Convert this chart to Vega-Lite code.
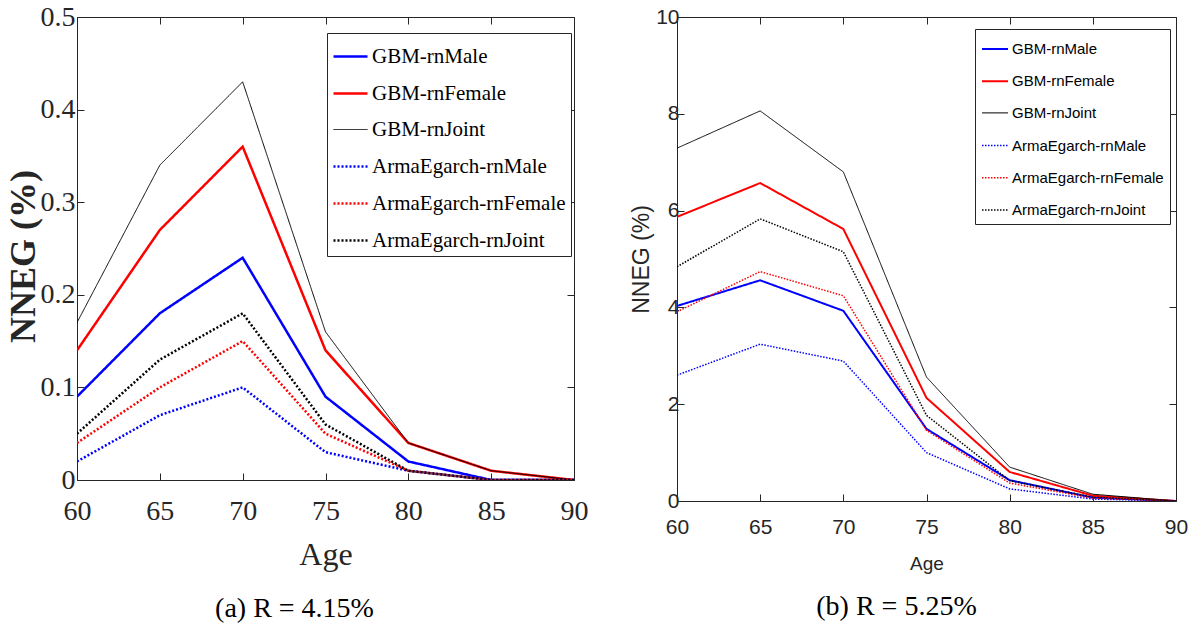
{
  "$schema": "https://vega.github.io/schema/vega-lite/v6.json",
  "background": "white",
  "padding": {"left": 4, "top": 2, "right": 5, "bottom": 0},
  "spacing": 40,
  "datasets": {
    "a": [
      {"age": 60, "series": "GBM-rnMale", "v": 0.09}, {"age": 65, "series": "GBM-rnMale", "v": 0.18}, {"age": 70, "series": "GBM-rnMale", "v": 0.24}, {"age": 75, "series": "GBM-rnMale", "v": 0.09}, {"age": 80, "series": "GBM-rnMale", "v": 0.02}, {"age": 85, "series": "GBM-rnMale", "v": 0.0}, {"age": 90, "series": "GBM-rnMale", "v": 0.0},
      {"age": 60, "series": "GBM-rnFemale", "v": 0.14}, {"age": 65, "series": "GBM-rnFemale", "v": 0.27}, {"age": 70, "series": "GBM-rnFemale", "v": 0.36}, {"age": 75, "series": "GBM-rnFemale", "v": 0.14}, {"age": 80, "series": "GBM-rnFemale", "v": 0.04}, {"age": 85, "series": "GBM-rnFemale", "v": 0.01}, {"age": 90, "series": "GBM-rnFemale", "v": 0.0},
      {"age": 60, "series": "GBM-rnJoint", "v": 0.17}, {"age": 65, "series": "GBM-rnJoint", "v": 0.34}, {"age": 70, "series": "GBM-rnJoint", "v": 0.43}, {"age": 75, "series": "GBM-rnJoint", "v": 0.16}, {"age": 80, "series": "GBM-rnJoint", "v": 0.04}, {"age": 85, "series": "GBM-rnJoint", "v": 0.01}, {"age": 90, "series": "GBM-rnJoint", "v": 0.0},
      {"age": 60, "series": "ArmaEgarch-rnMale", "v": 0.02}, {"age": 65, "series": "ArmaEgarch-rnMale", "v": 0.07}, {"age": 70, "series": "ArmaEgarch-rnMale", "v": 0.10}, {"age": 75, "series": "ArmaEgarch-rnMale", "v": 0.03}, {"age": 80, "series": "ArmaEgarch-rnMale", "v": 0.01}, {"age": 85, "series": "ArmaEgarch-rnMale", "v": 0.0}, {"age": 90, "series": "ArmaEgarch-rnMale", "v": 0.0},
      {"age": 60, "series": "ArmaEgarch-rnFemale", "v": 0.04}, {"age": 65, "series": "ArmaEgarch-rnFemale", "v": 0.10}, {"age": 70, "series": "ArmaEgarch-rnFemale", "v": 0.15}, {"age": 75, "series": "ArmaEgarch-rnFemale", "v": 0.05}, {"age": 80, "series": "ArmaEgarch-rnFemale", "v": 0.01}, {"age": 85, "series": "ArmaEgarch-rnFemale", "v": 0.0}, {"age": 90, "series": "ArmaEgarch-rnFemale", "v": 0.0},
      {"age": 60, "series": "ArmaEgarch-rnJoint", "v": 0.05}, {"age": 65, "series": "ArmaEgarch-rnJoint", "v": 0.13}, {"age": 70, "series": "ArmaEgarch-rnJoint", "v": 0.18}, {"age": 75, "series": "ArmaEgarch-rnJoint", "v": 0.06}, {"age": 80, "series": "ArmaEgarch-rnJoint", "v": 0.01}, {"age": 85, "series": "ArmaEgarch-rnJoint", "v": 0.0}, {"age": 90, "series": "ArmaEgarch-rnJoint", "v": 0.0}
    ],
    "b": [
      {"age": 60, "series": "GBM-rnMale", "v": 4.03}, {"age": 65, "series": "GBM-rnMale", "v": 4.56}, {"age": 70, "series": "GBM-rnMale", "v": 3.93}, {"age": 75, "series": "GBM-rnMale", "v": 1.49}, {"age": 80, "series": "GBM-rnMale", "v": 0.43}, {"age": 85, "series": "GBM-rnMale", "v": 0.07}, {"age": 90, "series": "GBM-rnMale", "v": 0.0},
      {"age": 60, "series": "GBM-rnFemale", "v": 5.87}, {"age": 65, "series": "GBM-rnFemale", "v": 6.57}, {"age": 70, "series": "GBM-rnFemale", "v": 5.62}, {"age": 75, "series": "GBM-rnFemale", "v": 2.13}, {"age": 80, "series": "GBM-rnFemale", "v": 0.60}, {"age": 85, "series": "GBM-rnFemale", "v": 0.11}, {"age": 90, "series": "GBM-rnFemale", "v": 0.0},
      {"age": 60, "series": "GBM-rnJoint", "v": 7.29}, {"age": 65, "series": "GBM-rnJoint", "v": 8.06}, {"age": 70, "series": "GBM-rnJoint", "v": 6.80}, {"age": 75, "series": "GBM-rnJoint", "v": 2.56}, {"age": 80, "series": "GBM-rnJoint", "v": 0.70}, {"age": 85, "series": "GBM-rnJoint", "v": 0.14}, {"age": 90, "series": "GBM-rnJoint", "v": 0.0},
      {"age": 60, "series": "ArmaEgarch-rnMale", "v": 2.60}, {"age": 65, "series": "ArmaEgarch-rnMale", "v": 3.24}, {"age": 70, "series": "ArmaEgarch-rnMale", "v": 2.89}, {"age": 75, "series": "ArmaEgarch-rnMale", "v": 1.00}, {"age": 80, "series": "ArmaEgarch-rnMale", "v": 0.25}, {"age": 85, "series": "ArmaEgarch-rnMale", "v": 0.04}, {"age": 90, "series": "ArmaEgarch-rnMale", "v": 0.0},
      {"age": 60, "series": "ArmaEgarch-rnFemale", "v": 3.91}, {"age": 65, "series": "ArmaEgarch-rnFemale", "v": 4.74}, {"age": 70, "series": "ArmaEgarch-rnFemale", "v": 4.24}, {"age": 75, "series": "ArmaEgarch-rnFemale", "v": 1.46}, {"age": 80, "series": "ArmaEgarch-rnFemale", "v": 0.37}, {"age": 85, "series": "ArmaEgarch-rnFemale", "v": 0.06}, {"age": 90, "series": "ArmaEgarch-rnFemale", "v": 0.0},
      {"age": 60, "series": "ArmaEgarch-rnJoint", "v": 4.84}, {"age": 65, "series": "ArmaEgarch-rnJoint", "v": 5.83}, {"age": 70, "series": "ArmaEgarch-rnJoint", "v": 5.15}, {"age": 75, "series": "ArmaEgarch-rnJoint", "v": 1.77}, {"age": 80, "series": "ArmaEgarch-rnJoint", "v": 0.42}, {"age": 85, "series": "ArmaEgarch-rnJoint", "v": 0.08}, {"age": 90, "series": "ArmaEgarch-rnJoint", "v": 0.0}
    ]
  },
  "config": {
    "view": {"stroke": "#262626", "strokeWidth": 1},
    "axis": {"grid": false, "domain": false, "tickColor": "#262626", "tickSize": -7, "labelColor": "#262626", "titleColor": "#262626", "labelFlush": false, "labelOverlap": false}
  },
  "hconcat": [
    {
      "width": 497,
      "height": 463,
      "data": {"name": "a"},
      "title": {"text": "(a)  R  =  4.15%", "orient": "bottom", "anchor": "middle", "frame": "group", "dx": -31, "offset": 25, "font": "Liberation Serif", "fontSize": 28, "fontWeight": "normal", "color": "black"},
      "layer": [
        {
          "mark": {"type": "line", "clip": true},
          "encoding": {
            "x": {"field": "age", "type": "quantitative", "scale": {"domain": [60, 90], "nice": false},
                  "axis": {"orient": "bottom", "values": [60, 65, 70, 75, 80, 85, 90], "title": "Age", "labelFont": "Liberation Serif", "labelFontSize": 28, "labelPadding": 24, "titleFont": "Liberation Serif", "titleFontSize": 32, "titleFontWeight": "normal", "titlePadding": 14}},
            "y": {"field": "v", "type": "quantitative", "scale": {"domain": [0, 0.5], "nice": false},
                  "axis": {"orient": "left", "values": [0, 0.1, 0.2, 0.3, 0.4, 0.5], "format": "~g", "title": "NNEG (%)", "labelFont": "Liberation Serif", "labelFontSize": 28, "labelPadding": 9, "titleFont": "Liberation Serif", "titleFontSize": 36, "titleFontWeight": "bold", "titleX": -54, "titleY": 239, "titleAngle": -90, "titleBaseline": "middle", "titleAlign": "center"}},
            "color": {"field": "series", "type": "nominal",
                      "scale": {"domain": ["GBM-rnMale", "GBM-rnFemale", "GBM-rnJoint", "ArmaEgarch-rnMale", "ArmaEgarch-rnFemale", "ArmaEgarch-rnJoint"], "range": ["#0000ff", "#ff0000", "#000000", "#0000ff", "#ff0000", "#000000"]},
                      "legend": {"title": null, "orient": "none", "legendX": 250, "legendY": 16, "symbolType": "stroke", "symbolSize": 1156, "labelFont": "Liberation Serif", "labelFontSize": 21, "labelColor": "black", "rowPadding": 8, "padding": 5, "strokeColor": "#262626", "fillColor": "white", "labelOffset": 3, "labelLimit": 400, "cornerRadius": 0}},
            "strokeDash": {"field": "series", "type": "nominal",
                      "scale": {"domain": ["GBM-rnMale", "GBM-rnFemale", "GBM-rnJoint", "ArmaEgarch-rnMale", "ArmaEgarch-rnFemale", "ArmaEgarch-rnJoint"], "range": [[1, 0], [1, 0], [1, 0], [2, 2], [2, 2], [2, 2]]},
                      "legend": {"title": null, "orient": "none", "legendX": 250, "legendY": 16, "symbolType": "stroke", "symbolSize": 1156, "labelFont": "Liberation Serif", "labelFontSize": 21, "labelColor": "black", "rowPadding": 8, "padding": 5, "strokeColor": "#262626", "fillColor": "white", "labelOffset": 3, "labelLimit": 400, "cornerRadius": 0}},
            "strokeWidth": {"field": "series", "type": "nominal",
                      "scale": {"type": "ordinal", "domain": ["GBM-rnMale", "GBM-rnFemale", "GBM-rnJoint", "ArmaEgarch-rnMale", "ArmaEgarch-rnFemale", "ArmaEgarch-rnJoint"], "range": [2.5, 2.5, 1, 2.5, 2.5, 2.5]},
                      "legend": {"title": null, "orient": "none", "legendX": 250, "legendY": 16, "symbolType": "stroke", "symbolSize": 1156, "labelFont": "Liberation Serif", "labelFontSize": 21, "labelColor": "black", "rowPadding": 8, "padding": 5, "strokeColor": "#262626", "fillColor": "white", "labelOffset": 3, "labelLimit": 400, "cornerRadius": 0}}
          }
        },
        {
          "mark": {"type": "line", "opacity": 0},
          "encoding": {
            "x": {"field": "age", "type": "quantitative", "scale": {"domain": [60, 90], "nice": false},
                  "axis": {"orient": "top", "values": [60, 65, 70, 75, 80, 85, 90], "labels": false, "title": null}},
            "y": {"field": "v", "type": "quantitative", "scale": {"domain": [0, 0.5], "nice": false},
                  "axis": {"orient": "right", "values": [0, 0.1, 0.2, 0.3, 0.4, 0.5], "labels": false, "title": null}},
            "detail": {"field": "series", "type": "nominal"}
          }
        }
      ],
      "resolve": {"axis": {"x": "independent", "y": "independent"}}
    },
    {
      "width": 499,
      "height": 484,
      "data": {"name": "b"},
      "title": {"text": "(b)  R  =  5.25%", "orient": "bottom", "anchor": "middle", "frame": "group", "dx": -30, "offset": 20, "font": "Liberation Serif", "fontSize": 28, "fontWeight": "normal", "color": "black"},
      "layer": [
        {
          "mark": {"type": "line", "clip": true},
          "encoding": {
            "x": {"field": "age", "type": "quantitative", "scale": {"domain": [60, 90], "nice": false},
                  "axis": {"orient": "bottom", "values": [60, 65, 70, 75, 80, 85, 90], "title": "Age", "labelFont": "Liberation Sans", "labelFontSize": 21, "labelPadding": 22, "titleFont": "Liberation Sans", "titleFontSize": 19, "titleFontWeight": "normal", "titlePadding": 17}},
            "y": {"field": "v", "type": "quantitative", "scale": {"domain": [0, 10], "nice": false},
                  "axis": {"orient": "left", "values": [0, 2, 4, 6, 8, 10], "title": "NNEG (%)", "labelFont": "Liberation Sans", "labelFontSize": 21, "labelPadding": 5, "titleFont": "Liberation Sans", "titleFontSize": 23, "titleFontWeight": "normal", "titleX": -36, "titleY": 242, "titleAngle": -90, "titleBaseline": "middle", "titleAlign": "center"}},
            "color": {"field": "series", "type": "nominal",
                      "scale": {"domain": ["GBM-rnMale", "GBM-rnFemale", "GBM-rnJoint", "ArmaEgarch-rnMale", "ArmaEgarch-rnFemale", "ArmaEgarch-rnJoint"], "range": ["#0000ff", "#ff0000", "#000000", "#0000ff", "#ff0000", "#000000"]},
                      "legend": {"title": null, "orient": "none", "legendX": 298, "legendY": 12, "symbolType": "stroke", "symbolSize": 676, "labelFont": "Liberation Sans", "labelFontSize": 15, "labelColor": "black", "rowPadding": 10.2, "padding": 6, "strokeColor": "#262626", "fillColor": "white", "labelOffset": 3, "labelLimit": 400, "cornerRadius": 0}},
            "strokeDash": {"field": "series", "type": "nominal",
                      "scale": {"domain": ["GBM-rnMale", "GBM-rnFemale", "GBM-rnJoint", "ArmaEgarch-rnMale", "ArmaEgarch-rnFemale", "ArmaEgarch-rnJoint"], "range": [[1, 0], [1, 0], [1, 0], [1.5, 1.5], [1.5, 1.5], [1.5, 1.5]]},
                      "legend": {"title": null, "orient": "none", "legendX": 298, "legendY": 12, "symbolType": "stroke", "symbolSize": 676, "labelFont": "Liberation Sans", "labelFontSize": 15, "labelColor": "black", "rowPadding": 10.2, "padding": 6, "strokeColor": "#262626", "fillColor": "white", "labelOffset": 3, "labelLimit": 400, "cornerRadius": 0}},
            "strokeWidth": {"field": "series", "type": "nominal",
                      "scale": {"type": "ordinal", "domain": ["GBM-rnMale", "GBM-rnFemale", "GBM-rnJoint", "ArmaEgarch-rnMale", "ArmaEgarch-rnFemale", "ArmaEgarch-rnJoint"], "range": [2, 2, 1, 1.5, 1.5, 1.5]},
                      "legend": {"title": null, "orient": "none", "legendX": 298, "legendY": 12, "symbolType": "stroke", "symbolSize": 676, "labelFont": "Liberation Sans", "labelFontSize": 15, "labelColor": "black", "rowPadding": 10.2, "padding": 6, "strokeColor": "#262626", "fillColor": "white", "labelOffset": 3, "labelLimit": 400, "cornerRadius": 0}}
          }
        },
        {
          "mark": {"type": "line", "opacity": 0},
          "encoding": {
            "x": {"field": "age", "type": "quantitative", "scale": {"domain": [60, 90], "nice": false},
                  "axis": {"orient": "top", "values": [60, 65, 70, 75, 80, 85, 90], "labels": false, "title": null}},
            "y": {"field": "v", "type": "quantitative", "scale": {"domain": [0, 10], "nice": false},
                  "axis": {"orient": "right", "values": [0, 2, 4, 6, 8, 10], "labels": false, "title": null}},
            "detail": {"field": "series", "type": "nominal"}
          }
        }
      ],
      "resolve": {"axis": {"x": "independent", "y": "independent"}}
    }
  ],
  "resolve": {
    "scale": {"color": "independent", "strokeDash": "independent", "strokeWidth": "independent"},
    "legend": {"color": "independent", "strokeDash": "independent", "strokeWidth": "independent"}
  }
}
